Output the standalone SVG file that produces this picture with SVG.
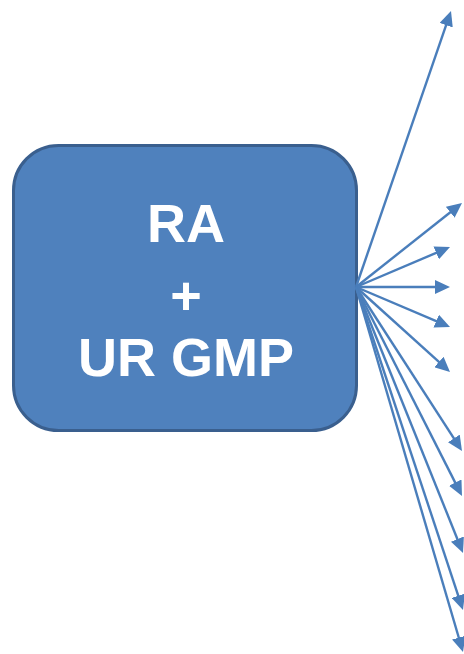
<svg xmlns="http://www.w3.org/2000/svg" width="464" height="654" viewBox="0 0 464 654">
<style>
.box{fill:#4f81bd;stroke:#3a5f8e;stroke-width:3}
.lbl{font-family:"Liberation Sans",Arial,sans-serif;font-weight:bold;fill:#ffffff;text-anchor:middle;font-size:54px}
.con{stroke:#4a7ebb;stroke-width:2.4;fill:none;marker-end:url(#ah)}
</style>
<defs>
<marker id="ah" markerUnits="userSpaceOnUse" markerWidth="15" markerHeight="14" refX="9" refY="7" orient="auto">
<path d="M0,0 L15,7 L0,14 z" fill="#4a7ebb"/>
</marker>
</defs>
<g id="node-main">
<rect class="box" x="13.5" y="145.5" width="343" height="285" rx="45" ry="45"/>
<text class="lbl" x="186" y="242">RA</text>
<text class="lbl" x="186" y="314">+</text>
<text class="lbl" x="186" y="376">UR GMP</text>
</g>
<g id="connectors">
<line class="con" x1="356" y1="287" x2="449.05" y2="16.67"/>
<line class="con" x1="356" y1="287" x2="457.3" y2="206.73"/>
<line class="con" x1="356" y1="287" x2="444.48" y2="249.35"/>
<line class="con" x1="356" y1="287" x2="444" y2="287"/>
<line class="con" x1="356" y1="287" x2="444.48" y2="324.65"/>
<line class="con" x1="356" y1="287" x2="445.55" y2="367.98"/>
<line class="con" x1="356" y1="287" x2="458.74" y2="445.96"/>
<line class="con" x1="356" y1="287" x2="459.29" y2="490.65"/>
<line class="con" x1="356" y1="287" x2="460.76" y2="547.43"/>
<line class="con" x1="356" y1="287" x2="461.11" y2="604.3"/>
<line class="con" x1="356" y1="287" x2="461.31" y2="646.24"/>
</g>
</svg>
